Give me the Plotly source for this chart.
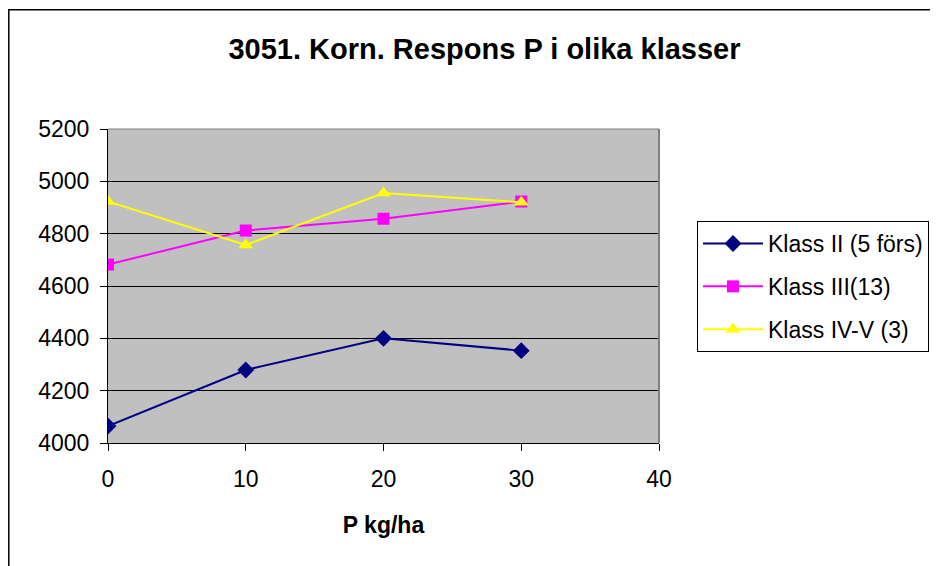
import plotly.graph_objects as go

x_vals = [0, 10, 20, 30]
klass_ii = [4065, 4279, 4400, 4353]
klass_iii = [4682, 4812, 4857, 4923]
klass_iv_v = [4923, 4757, 4955, 4920]
series_names = ["Klass II (5 förs)", "Klass III(13)", "Klass IV-V (3)"]
x_ticks = [0, 10, 20, 30, 40]
y_ticks = [4000, 4200, 4400, 4600, 4800, 5000, 5200]

FONT = "Liberation Sans, Arial, sans-serif"

fig = go.Figure()
fig.add_trace(go.Scatter(x=x_vals, y=klass_ii, name=series_names[0], mode="lines+markers",
                         legendgroup="a",
                         line=dict(color="#000080", width=2),
                         marker=dict(symbol="diamond", size=13, color="#000080")))
fig.add_trace(go.Scatter(x=x_vals, y=klass_iii, name=series_names[1], mode="lines+markers",
                         legendgroup="b",
                         line=dict(color="#FF00FF", width=2),
                         marker=dict(symbol="square", size=12, color="#FF00FF")))
fig.add_trace(go.Scatter(x=x_vals, y=klass_iv_v, name=series_names[2], mode="lines+markers",
                         legendgroup="c",
                         line=dict(color="#FFFF00", width=2),
                         marker=dict(symbol="triangle-up", size=13, color="#FFFF00")))

fig.update_layout(
    width=938, height=566,
    margin=dict(l=100, r=287, t=121, b=131),
    paper_bgcolor="white",
    plot_bgcolor="#C0C0C0",
    font=dict(family=FONT, size=23, color="black"),
    title=dict(text="<b>3051. Korn. Respons P i olika klasser</b>", x=0.508, xanchor="center",
               y=0.928, yanchor="middle", font=dict(size=29, family=FONT, color="black")),
    showlegend=True,
    legend=dict(x=1.069, y=0.707, xanchor="left", yanchor="top",
                bordercolor="black", borderwidth=1, bgcolor="white",
                font=dict(size=23, family=FONT), traceorder="grouped",
                tracegroupgap=10, itemwidth=60),
    xaxis=dict(range=[0, 40], tickvals=x_ticks, showgrid=False, zeroline=False,
               showline=True, linecolor="black", linewidth=1,
               ticks="outside", ticklen=7, tickcolor="black", ticklabelstandoff=8,
               title=dict(text="<b>P kg/ha</b>", font=dict(size=23, family=FONT), standoff=26)),
    yaxis=dict(range=[4000, 5200], tickvals=y_ticks, showgrid=True, gridcolor="black", gridwidth=1,
               zeroline=False, showline=True, linecolor="black", linewidth=1,
               ticks="outside", ticklen=7, tickcolor="black", ticklabelstandoff=6),
    shapes=[
        dict(type="line", xref="paper", yref="paper", x0=1, x1=1, y0=0, y1=1,
             line=dict(color="#808080", width=2)),
        dict(type="line", xref="paper", yref="paper", x0=0, x1=1, y0=1, y1=1,
             line=dict(color="#808080", width=1)),
        dict(type="path", xref="paper", yref="paper",
             path="M -0.180,-1 L -0.180,1.380 L 2,1.380",
             line=dict(color="black", width=1.5)),
    ],
)

fig.write_html("out.html")
